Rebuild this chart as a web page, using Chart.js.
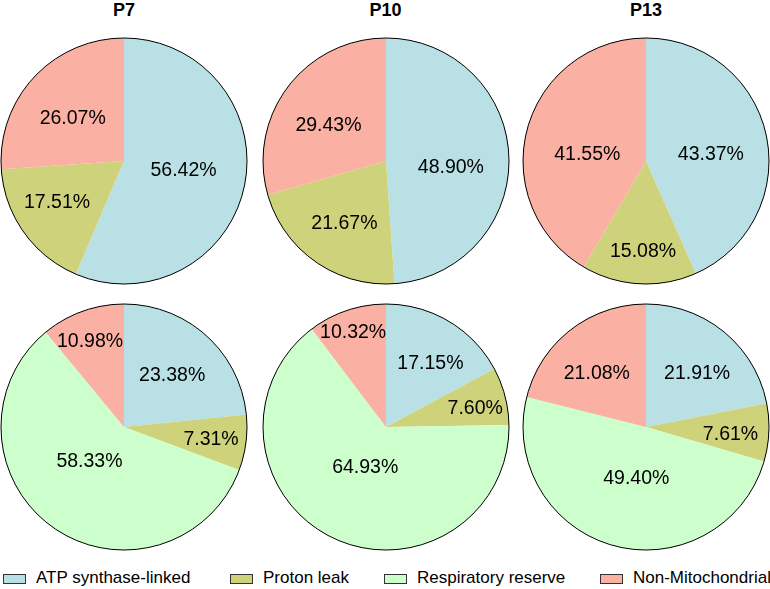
<!DOCTYPE html>
<html>
<head>
<meta charset="utf-8">
<script src="https://cdn.jsdelivr.net/npm/chart.js@4.4.1/dist/chart.umd.min.js"></script>
<style>
    body { margin: 0; background: #fff; font-family: "Liberation Sans", Arial, sans-serif; }
    #wrap { position: relative; width: 770px; height: 589px; overflow: hidden; }
    .pie { position: absolute; width: 250px; height: 250px; }
    .title { position: absolute; top: 0; width: 120px; text-align: center; font-weight: bold; font-size: 18px; line-height: 20px; color: #000; }
    .legend { position: absolute; top: 566px; left: 0; height: 24px; font-size: 17px; color: #000; }
    .legend span.item { position: absolute; top: 0; white-space: nowrap; line-height: 24px; }
    .legend i { position: absolute; top: 8px; width: 21px; height: 8px; border: 1px solid #333; }
</style>
</head>
<body>
<div id="wrap"></div>
<script>
// categories + values
const categories = ["ATP synthase-linked", "Proton leak", "Respiratory reserve", "Non-Mitochondrial"];
const ages = ["P7", "P10", "P13"];

const topP7 = [56.42, 17.51, 0, 26.07];
const topP10 = [48.90, 21.67, 0, 29.43];
const topP13 = [43.37, 15.08, 0, 41.55];

const bottomP7 = [23.38, 7.31, 58.33, 10.98];
const bottomP10 = [17.15, 7.60, 64.93, 10.32];
const bottomP13 = [21.91, 7.61, 49.40, 21.08];

const colors = ["#B9E0E4", "#CED37B", "#CCFFCC", "#FAB0A2"];

// label placement (fraction of radius, degrees of shift from slice middle)
const labelRadius = [
    [0.49, 0.64, 0, 0.54], [0.53, 0.61, 0, 0.55], [0.53, 0.74, 0, 0.48],
    [0.57, 0.715, 0.40, 0.745], [0.63, 0.74, 0.37, 0.81], [0.60, 0.69, 0.43, 0.59]
];
const labelShift = [
    [-2.5, 3.6, 0, -3.6], [7.8, -1.4, 0, -5.3], [6.2, -1.4, 0, -8.8],
    [1.3, 0.9, 9.1, -2], [4.1, 3.1, 1.2, -0.7], [4.4, 2.7, -4.6, -4.7]
];

const centersX = [124, 385.5, 646];
const centersY = [161, 427];

const wrap = document.getElementById("wrap");

// outer rim + percent labels
const pieDecor = {
    id: "pieDecor",
    afterDatasetsDraw(chart, args, opts) {
        const ctx = chart.ctx;
        const meta = chart.getDatasetMeta(0);
        const first = meta.data[0];
        const values = chart.data.datasets[0].data;

        ctx.save();
        ctx.beginPath();
        ctx.arc(first.x, first.y, first.outerRadius, 0, Math.PI * 2);
        ctx.lineWidth = 1;
        ctx.strokeStyle = "#000";
        ctx.stroke();

        ctx.font = "19.5px 'Liberation Sans', Arial, sans-serif";
        ctx.fillStyle = "#000";
        ctx.textAlign = "center";
        ctx.textBaseline = "middle";
        meta.data.forEach((arc, i) => {
            if (!values[i]) return;
            const mid = (arc.startAngle + arc.endAngle) / 2 + opts.shift[i] * Math.PI / 180;
            const d = opts.radius[i] * arc.outerRadius;
            ctx.fillText(values[i].toFixed(2) + "%", arc.x + Math.cos(mid) * d, arc.y + Math.sin(mid) * d);
        });
        ctx.restore();
    }
};

function makePie(values, idx, col, row) {
    const canvas = document.createElement("canvas");
    canvas.className = "pie";
    canvas.width = 250;
    canvas.height = 250;
    canvas.style.left = (centersX[col] - 125) + "px";
    canvas.style.top = (centersY[row] - 125) + "px";
    wrap.appendChild(canvas);

    new Chart(canvas, {
        type: "pie",
        data: {
            labels: categories,
            datasets: [{
                data: values,
                backgroundColor: colors,
                borderWidth: 0
            }]
        },
        options: {
            responsive: false,
            animation: false,
            layout: { padding: 2 },
            plugins: {
                legend: { display: false },
                tooltip: { enabled: false },
                pieDecor: { radius: labelRadius[idx], shift: labelShift[idx] }
            }
        },
        plugins: [pieDecor]
    });
}

[topP7, topP10, topP13].forEach((v, i) => makePie(v, i, i, 0));
[bottomP7, bottomP10, bottomP13].forEach((v, i) => makePie(v, i + 3, i, 1));

// titles
ages.forEach((a, i) => {
    const t = document.createElement("div");
    t.className = "title";
    t.textContent = a;
    t.style.left = (centersX[i] - 60) + "px";
    wrap.appendChild(t);
});

// legend
const legend = document.createElement("div");
legend.className = "legend";
const legendX = [3, 230, 384, 600];
categories.forEach((c, i) => {
    const box = document.createElement("i");
    box.style.left = legendX[i] + "px";
    box.style.background = colors[i];
    legend.appendChild(box);
    const s = document.createElement("span");
    s.className = "item";
    s.style.left = (legendX[i] + 33) + "px";
    s.textContent = c;
    legend.appendChild(s);
});
wrap.appendChild(legend);
</script>
</body>
</html>
